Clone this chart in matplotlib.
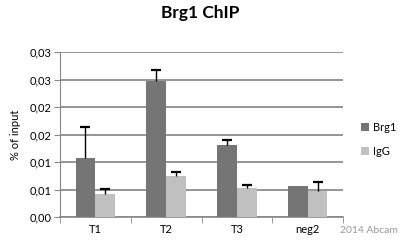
import numpy as np
import matplotlib

matplotlib.use('Agg')
import matplotlib.pyplot as plt

# --- Data ---
categories = ['T1', 'T2', 'T3', 'neg2']
brg1 = [0.0108, 0.0247, 0.0131, 0.0056]
brg1_err = [0.0056, 0.0020, 0.0009, 0.0]
igg = [0.0041, 0.0075, 0.0053, 0.0047]
igg_err = [0.0010, 0.0007, 0.0005, 0.0016]
ytick_vals = [0, 0.005, 0.01, 0.015, 0.02, 0.025, 0.03]
ytick_labels = ['0,00', '0,01', '0,01', '0,02', '0,02', '0,03', '0,03']

plt.rcParams['font.family'] = ['Lato', 'DejaVu Sans']

fig = plt.figure(figsize=(4.0, 2.41), dpi=100)
ax = fig.add_axes([60 / 400, 24 / 241, 283 / 400, 165 / 241])

x = np.arange(len(categories))
w = 0.28


def up_errors(xs, vals, errs):
    # one-sided (upper) error bars: stem plus a cap at the top only
    vals = np.array(vals)
    errs = np.array(errs)
    keep = errs > 0
    ax.vlines(xs[keep], vals[keep], vals[keep] + errs[keep], color='black',
              linewidth=1, zorder=4)
    ax.plot(xs[keep], vals[keep] + errs[keep], linestyle='none', marker='_',
            markersize=7, markeredgewidth=1.6, color='black', zorder=4)


ax.bar(x - w / 2, brg1, w, color='#757575', label='Brg1', zorder=3)
ax.bar(x + w / 2, igg, w, color='#c0c0c0', label='IgG', zorder=3)
up_errors(x - w / 2, brg1, brg1_err)
up_errors(x + w / 2, igg, igg_err)

ax.set_xlim(-0.5, len(categories) - 0.5)
ax.set_ylim(0, 0.03)
ax.set_yticks(ytick_vals)
ax.set_yticklabels(ytick_labels, fontsize=8)
ax.set_xticks(x)
ax.set_xticklabels(categories, fontsize=8)
ax.set_xticks(np.arange(len(categories) + 1) - 0.5, minor=True)
ax.tick_params(axis='x', which='major', length=0, pad=5)
ax.tick_params(axis='x', which='minor', length=4, color='#888888')
ax.tick_params(axis='y', length=4, color='#888888', pad=2)

ax.grid(axis='y', color='#8c8c8c', linewidth=1.3, zorder=0)
for s in ['top', 'right']:
    ax.spines[s].set_visible(False)
ax.spines['left'].set_color('#888888')
ax.spines['bottom'].set_color('#888888')
ax.spines['bottom'].set_linewidth(1.2)

ax.set_ylabel('% of input', fontsize=8, labelpad=6)
fig.text(0.5, 0.925, 'Brg1 ChIP', ha='center', fontsize=12.5, fontweight='bold')

ax.legend(loc='center left', bbox_to_anchor=(1.03, 0.47), frameon=False,
          fontsize=8, handlelength=0.7, handleheight=0.7, handletextpad=0.3,
          labelspacing=1.2)

fig.text(398 / 400, 1 - 233 / 241, '2014 Abcam', ha='right', fontsize=7.5,
         color='#999999')

fig.savefig('out.png', dpi=100)
